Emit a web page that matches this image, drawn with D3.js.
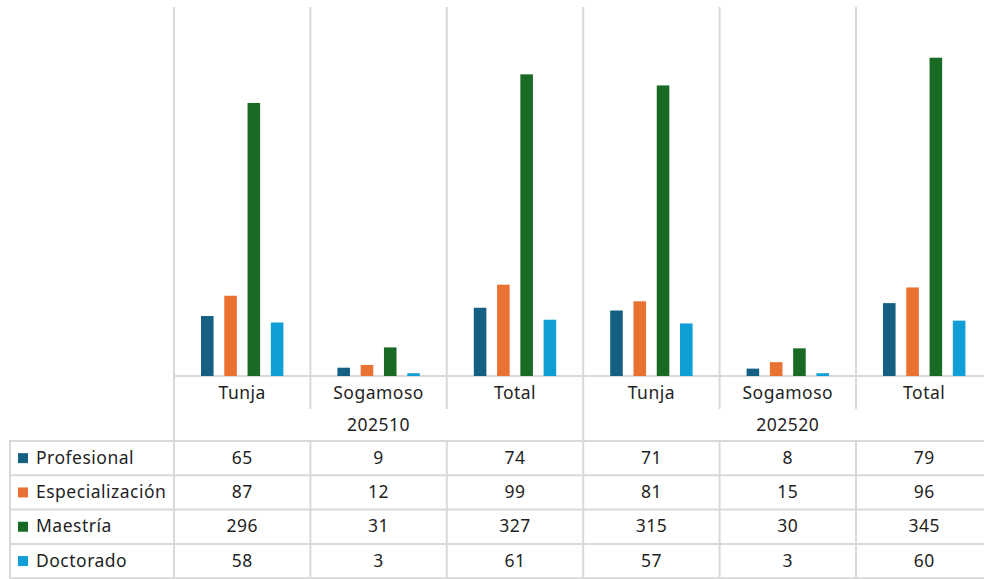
<!DOCTYPE html>
<html>
<head>
<meta charset="utf-8">
<script src="https://cdn.jsdelivr.net/npm/d3@7"></script>
<style>
  body { margin: 0; background: #fff; }
  text { font-family: "Noto Sans", sans-serif; fill: #1f1f1f; letter-spacing: 0.5px; }
</style>
</head>
<body>
<div id="chart"></div>
<script>

const periods = ["202510", "202520"];
const sites = ["Tunja", "Sogamoso", "Total"];
const seriesNames = ["Profesional", "Especialización", "Maestría", "Doctorado"];
const colors = ["#156082", "#E97132", "#196B24", "#0F9ED5"];

// one value per column: 202510 Tunja, Sogamoso, Total, 202520 Tunja, Sogamoso, Total
const profesional = [65, 9, 74, 71, 8, 79];
const especializacion = [87, 12, 99, 81, 15, 96];
const maestria = [296, 31, 327, 315, 30, 345];
const doctorado = [58, 3, 61, 57, 3, 60];

const seriesValues = [profesional, especializacion, maestria, doctorado];

const width = 984;
const height = 579;
const fs = 17.5;

const columns = [];
periods.forEach((p, i) => {
  sites.forEach((s, j) => {
    columns.push({ id: i * sites.length + j, period: p, site: s });
  });
});

const svg = d3.select("#chart").append("svg")
  .attr("width", width)
  .attr("height", height);

const plotLeft = 174, plotRight = 992.4;
const plotTop = 7, baseline = 376;
const tableLeft = 10;
const catRowBottom = 409;
const tableTop = 441;
const rowH = 34.3;
const gridColor = "#d9d9d9";

const x0 = d3.scaleBand()
  .domain(columns.map(d => d.id))
  .range([plotLeft, plotRight])
  .padding(0);

const cw = x0.bandwidth();
const x1 = d3.scaleBand()
  .domain(seriesNames)
  .range([27, cw - 27])
  .paddingInner(0.46)
  .paddingOuter(0);

const y = d3.scaleLinear()
  .domain([0, 400])
  .range([baseline, plotTop]);

const grid = svg.append("g")
  .attr("stroke", gridColor)
  .attr("stroke-width", 2);

// column boundaries
const bounds = columns.map(d => x0(d.id)).concat([plotRight]);

// vertical lines through plot area and category row
bounds.forEach(bx => {
  grid.append("line")
    .attr("x1", bx).attr("x2", bx)
    .attr("y1", plotTop).attr("y2", catRowBottom);
});

// period row: only at period boundaries
periods.forEach((p, i) => {
  const bx = x0(i * sites.length);
  grid.append("line")
    .attr("x1", bx).attr("x2", bx)
    .attr("y1", catRowBottom).attr("y2", tableTop);
});
grid.append("line")
  .attr("x1", plotRight).attr("x2", plotRight)
  .attr("y1", catRowBottom).attr("y2", tableTop);

const tableBottom = tableTop + rowH * seriesNames.length;

// table verticals
bounds.concat([tableLeft]).forEach(bx => {
  grid.append("line")
    .attr("x1", bx).attr("x2", bx)
    .attr("y1", tableTop).attr("y2", tableBottom);
});

// baseline
grid.append("line")
  .attr("x1", plotLeft).attr("x2", plotRight)
  .attr("y1", baseline).attr("y2", baseline);

// table horizontals
d3.range(seriesNames.length + 1).forEach(i => {
  const yy = tableTop + i * rowH;
  grid.append("line")
    .attr("x1", tableLeft - 1).attr("x2", plotRight)
    .attr("y1", yy).attr("y2", yy);
});

// bars
const barData = [];
seriesNames.forEach((s, si) => {
  seriesValues[si].forEach((v, ci) => {
    barData.push({ series: s, si: si, col: ci, value: v });
  });
});

svg.append("g")
  .selectAll("rect")
  .data(barData)
  .enter()
  .append("rect")
  .attr("x", d => x0(d.col) + x1(d.series))
  .attr("y", d => y(d.value))
  .attr("width", x1.bandwidth())
  .attr("height", d => baseline - y(d.value))
  .attr("fill", d => colors[d.si]);

// category labels
svg.append("g")
  .selectAll("text")
  .data(columns)
  .enter()
  .append("text")
  .attr("x", d => x0(d.id) + cw / 2)
  .attr("y", (baseline + catRowBottom) / 2 + 2)
  .attr("text-anchor", "middle")
  .attr("dominant-baseline", "middle")
  .attr("font-size", fs)
  .text(d => d.site);

// period labels
svg.append("g")
  .selectAll("text")
  .data(periods)
  .enter()
  .append("text")
  .attr("x", (d, i) => x0(i * sites.length) + cw * sites.length / 2)
  .attr("y", (catRowBottom + tableTop) / 2 + 1)
  .attr("text-anchor", "middle")
  .attr("dominant-baseline", "middle")
  .attr("font-size", fs)
  .text(d => d);

// data table rows
const rows = svg.append("g")
  .selectAll("g")
  .data(seriesNames)
  .enter()
  .append("g")
  .attr("transform", (d, i) => "translate(0," + (tableTop + i * rowH + rowH / 2) + ")");

rows.append("rect")
  .attr("x", 18)
  .attr("y", -5)
  .attr("width", 10)
  .attr("height", 10)
  .attr("fill", (d, i) => colors[i]);

rows.append("text")
  .attr("x", 36)
  .attr("y", 1)
  .attr("dominant-baseline", "middle")
  .attr("font-size", fs)
  .text(d => d);

rows.each(function(s, si) {
  d3.select(this).selectAll("text.val")
    .data(seriesValues[si])
    .enter()
    .append("text")
    .attr("class", "val")
    .attr("x", (v, ci) => x0(ci) + cw / 2)
    .attr("y", 1)
    .attr("text-anchor", "middle")
    .attr("dominant-baseline", "middle")
    .attr("font-size", fs)
    .text(v => v);
});

</script>
</body>
</html>
